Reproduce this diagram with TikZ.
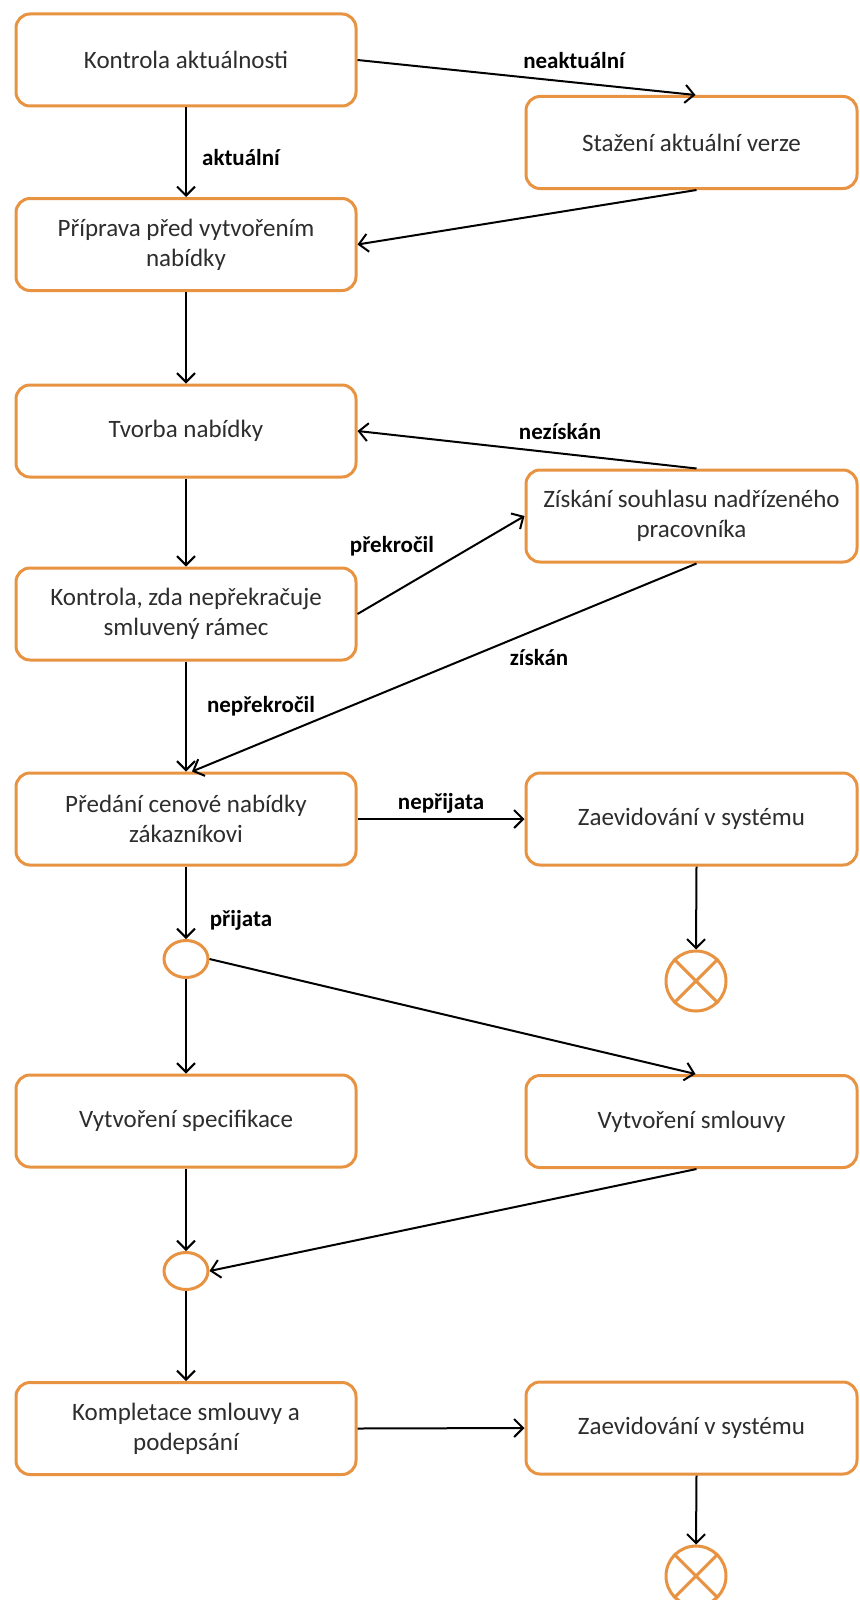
\documentclass[tikz,border=0pt]{standalone}
\usepackage{fontspec}
\setmainfont{Carlito}
\usetikzlibrary{arrows.meta,shapes.geometric}
\definecolor{boxorange}{RGB}{232,147,66}
\definecolor{boxtext}{RGB}{45,45,45}
\tikzset{
  stepbox/.style={draw=boxorange, line width=3pt, rounded corners=14pt, fill=white,
    minimum height=92pt, inner sep=0pt, align=center, text=boxtext,
    font=\fontsize{25}{30}\selectfont},
  leftbox/.style={stepbox, minimum width=340pt},
  rightbox/.style={stepbox, minimum width=331pt},
  joinnode/.style={draw=boxorange, line width=3pt, ellipse, fill=white,
    minimum width=44pt, minimum height=37pt, inner sep=0pt},
  endnode/.style={draw=boxorange, line width=3pt, circle, fill=white,
    minimum size=60pt, inner sep=0pt},
  flow/.style={draw=black, line width=2pt,
    -{Straight Barb[length=9pt,width=18pt,line width=2pt]}},
  guard/.style={font=\fontsize{23}{28}\selectfont\bfseries, text=black, inner sep=0pt}
}
\begin{document}
\begin{tikzpicture}[x=1pt,y=-1pt]
\useasboundingbox (0,0) rectangle (859,1600);

% left column
\node[leftbox] (kakt)  at (186,60)    {Kontrola aktuálnosti};
\node[leftbox] (pripr) at (186,244.5) {Příprava před vytvořením\\nabídky};
\node[leftbox] (tvorba) at (186,431)  {Tvorba nabídky};
\node[leftbox] (kram)  at (186,614)   {Kontrola, zda nepřekračuje\\smluvený rámec};
\node[leftbox] (pred)  at (186,819)   {Předání cenové nabídky\\zákazníkovi};
\node[joinnode] (fork) at (186,959)   {};
\node[leftbox] (spec)  at (186,1121)  {Vytvoření specifikace};
\node[joinnode] (join) at (186,1271)  {};
\node[leftbox] (kompl) at (186,1428.5){Kompletace smlouvy a\\podepsání};

% right column
\node[rightbox] (staz)  at (691.5,142.5) {Stažení aktuální verze};
\node[rightbox] (zisk)  at (691.5,516)   {Získání souhlasu nadřízeného\\pracovníka};
\node[rightbox] (zaevA) at (691.5,819)   {Zaevidování v systému};
\node[endnode]  (endA)  at (696,981)     {};
\node[rightbox] (smlo)  at (691.5,1121.5){Vytvoření smlouvy};
\node[rightbox] (zaevB) at (691.5,1428)  {Zaevidování v systému};
\node[endnode]  (endB)  at (696,1576)    {};

% crosses inside the final states
\draw[boxorange, line width=3pt] (endA.north east) -- (endA.south west)
                                 (endA.north west) -- (endA.south east);
\draw[boxorange, line width=3pt] (endB.north east) -- (endB.south west)
                                 (endB.north west) -- (endB.south east);

% transitions
\draw[flow] (kakt.east) -- ([xshift=4pt]staz.north);
\draw[flow] (kakt.south) -- (pripr.north);
\draw[flow] ([xshift=5pt]staz.south) -- (pripr.east);
\draw[flow] (pripr.south) -- (tvorba.north);
\draw[flow] ([xshift=5pt]zisk.north) -- (tvorba.east);
\draw[flow] (tvorba.south) -- (kram.north);
\draw[flow] (kram.east) -- (zisk.west);
\draw[flow] ([xshift=5pt]zisk.south) -- ([xshift=6pt]pred.north);
\draw[flow] (kram.south) -- (pred.north);
\draw[flow] (pred.east) -- (zaevA.west);
\draw[flow] (pred.south) -- (fork.north);
\draw[flow] ([xshift=5pt]zaevA.south) -- (endA.north);
\draw[flow] (fork.east) -- ([xshift=4pt]smlo.north);
\draw[flow] (fork.south) -- (spec.north);
\draw[flow] (spec.south) -- (join.north);
\draw[flow] ([xshift=5pt]smlo.south) -- (join.east);
\draw[flow] (join.south) -- (kompl.north);
\draw[flow] (kompl.east) -- (zaevB.west);
\draw[flow] ([xshift=5pt]zaevB.south) -- (endB.north);

% guard labels
\node[guard] (gneakt) at (574,61)  {neaktuální};
\node[guard] (gakt)   at (241,158) {aktuální};
\node[guard] (gnezis) at (560,432) {nezískán};
\node[guard] (gprek)  at (392,546) {překročil};
\node[guard] (gzis)   at (539,658) {získán};
\node[guard] (gneprek) at (261,706) {nepřekročil};
\node[guard] (gnepri) at (441,803) {nepřijata};
\node[guard] (gpri)   at (241,920) {přijata};
\end{tikzpicture}
\end{document}
